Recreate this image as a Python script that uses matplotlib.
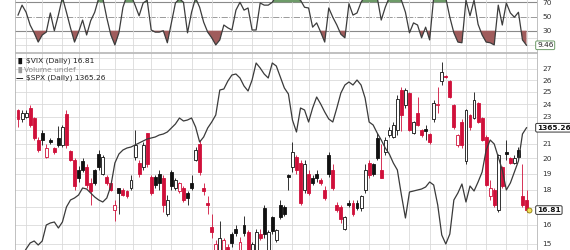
import matplotlib
matplotlib.use("Agg")
import matplotlib.pyplot as plt
import matplotlib.transforms as mtransforms
import numpy as np
from matplotlib.patches import Rectangle
from matplotlib.ticker import FixedLocator, FixedFormatter, NullLocator

plt.rcParams.update({"font.family": "DejaVu Sans"})

# ---- data (daily bars, oldest first) ----
vix_open = [23.5, 22.8, 23.0, 23.7, 22.9, 21.3, 21.8, 20.1, 21.3, 20.7,
            21.4, 20.9, 23.2, 20.5, 19.9, 19.2, 19.8, 19.4, 18.4, 19.2,
            20.3, 19.0, 18.8, 18.4, 16.8, 18.1, 18.0, 17.9, 18.1, 20.1,
            19.7, 19.4, 21.8, 18.8, 18.8, 19.0, 18.7, 16.6, 19.1, 18.1,
            17.9, 18.1, 17.8, 18.4, 19.9, 21.0, 18.1, 17.2, 15.9, 14.6,
            14.45, 14.4, 14.85, 15.5, 15.8, 14.7, 16.0, 15.6, 14.7, 14.6,
            15.5, 16.9, 14.7, 16.4, 15.2, 17.1, 17.0, 18.9, 19.4, 20.1,
            19.7, 18.0, 19.0, 18.7, 19.0, 18.6, 18.0, 20.2, 19.2, 17.1,
            17.0, 15.8, 17.2, 17.2, 17.2, 16.9, 18.0, 19.7, 19.6, 21.4,
            19.2, 20.4, 21.6, 21.5, 22.0, 25.2, 23.9, 24.9, 21.8, 23.3,
            22.0, 22.1, 21.7, 22.8, 23.9, 25.9, 26.4, 25.9, 23.9, 20.9,
            22.6, 19.8, 23.1, 22.9, 24.1, 22.9, 21.5, 17.6, 18.0, 16.8,
            19.4, 20.45, 20.0, 19.7, 20.6, 17.6, 17.4]
vix_high = [23.6, 23.5, 23.5, 23.9, 23.0, 21.5, 22.0, 21.0, 21.4, 20.8,
            22.3, 22.4, 23.5, 20.6, 20.0, 19.5, 20.0, 19.6, 18.7, 19.3,
            20.6, 20.2, 18.9, 18.6, 17.4, 18.1, 18.1, 18.0, 18.9, 22.0,
            19.9, 21.1, 21.8, 18.9, 18.9, 19.2, 18.9, 17.7, 19.2, 18.7,
            18.5, 18.2, 17.9, 18.9, 20.8, 21.3, 18.4, 17.6, 16.6, 15.2,
            16.2, 15.3, 15.0, 15.6, 16.0, 15.35, 16.5, 15.7, 15.1, 15.8,
            15.8, 17.1, 15.7, 16.5, 15.8, 17.4, 17.1, 18.95, 21.1, 20.2,
            19.9, 19.9, 19.2, 18.9, 19.2, 18.7, 18.2, 20.4, 19.6, 17.3,
            17.1, 16.5, 17.4, 17.4, 17.4, 17.7, 19.6, 19.9, 19.7, 21.8,
            21.0, 21.5, 22.2, 22.6, 24.7, 25.4, 25.3, 25.0, 22.7, 24.6,
            22.1, 22.4, 21.8, 24.3, 25.4, 27.6, 26.5, 26.0, 24.0, 21.7,
            22.8, 23.6, 23.2, 25.0, 24.2, 23.0, 21.6, 18.6, 18.1, 20.3,
            19.5, 21.3, 20.1, 20.2, 20.8, 19.6, 18.0]
vix_low = [22.2, 22.6, 22.9, 22.2, 21.3, 20.4, 20.9, 20.0, 21.0, 20.3,
           20.8, 20.8, 20.7, 19.8, 18.0, 18.5, 19.1, 18.1, 17.1, 18.3,
           19.2, 18.9, 18.3, 17.9, 16.2, 16.6, 17.6, 17.5, 18.0, 19.9,
           18.8, 19.2, 19.4, 17.7, 18.1, 18.0, 16.7, 16.5, 18.0, 18.0,
           17.8, 17.3, 17.1, 18.0, 19.8, 18.9, 17.7, 16.6, 15.3, 14.4,
           14.3, 14.3, 14.5, 14.85, 15.4, 14.45, 15.4, 14.45, 14.6, 14.45,
           15.2, 15.3, 14.6, 15.5, 15.1, 16.3, 16.5, 18.0, 19.1, 19.0,
           17.1, 17.8, 17.7, 18.3, 18.5, 18.3, 17.4, 18.8, 18.0, 16.7,
           16.1, 15.7, 17.0, 16.5, 16.8, 16.75, 17.8, 18.7, 18.85, 19.9,
           18.7, 20.2, 21.5, 21.4, 21.6, 21.9, 23.7, 21.9, 21.7, 22.3,
           21.5, 21.3, 21.0, 22.6, 23.3, 25.6, 26.2, 24.5, 22.1, 20.8,
           20.7, 19.6, 22.0, 22.8, 22.5, 21.2, 18.2, 17.4, 17.0, 16.7,
           18.1, 19.9, 19.6, 19.6, 20.0, 17.0, 16.7]
vix_close = [22.8, 23.3, 23.3, 22.4, 21.4, 20.6, 21.3, 20.7, 21.1, 20.4,
             20.9, 22.2, 20.9, 19.9, 18.2, 18.7, 19.2, 18.3, 17.9, 18.4,
             19.4, 20.1, 18.4, 18.0, 17.1, 17.8, 17.7, 17.6, 18.6, 20.9,
             19.0, 20.9, 19.6, 17.8, 18.3, 18.4, 17.1, 17.4, 18.2, 18.6,
             18.4, 17.4, 17.5, 18.1, 20.6, 19.1, 17.9, 17.1, 15.6, 15.0,
             15.3, 15.2, 14.7, 15.05, 15.55, 15.1, 15.55, 14.6, 15.0, 15.6,
             15.3, 15.5, 15.6, 15.65, 15.7, 16.4, 16.6, 18.8, 20.4, 19.2,
             17.2, 19.6, 17.8, 18.4, 18.7, 18.4, 17.5, 19.0, 18.1, 16.8,
             16.3, 16.4, 17.1, 16.6, 16.9, 17.6, 19.2, 18.9, 19.0, 20.0,
             18.75, 21.3, 22.0, 22.4, 24.4, 23.1, 25.2, 22.0, 22.6, 22.4,
             21.6, 21.9, 21.1, 24.1, 24.0, 26.7, 26.3, 24.6, 22.2, 21.6,
             20.9, 23.5, 22.2, 24.3, 22.6, 21.3, 18.3, 18.1, 17.1, 20.2,
             18.2, 20.3, 19.7, 20.0, 20.1, 17.1, 16.81]
vix_prior_close = 23.6

spx_close = [1231, 1237, 1244, 1250, 1252, 1248, 1252, 1268, 1270, 1271,
             1265, 1271, 1286, 1293, 1295, 1298, 1305, 1304, 1300, 1296,
             1293, 1291, 1295, 1307, 1330, 1339, 1343, 1345, 1346, 1348,
             1350, 1352, 1354, 1355, 1356, 1358, 1359, 1361, 1365, 1369,
             1375, 1372, 1373, 1375, 1366, 1351, 1356, 1365, 1371, 1378,
             1403, 1404, 1412, 1418, 1419, 1415, 1407, 1402, 1413, 1430,
             1425, 1419, 1415, 1430, 1427, 1416, 1405, 1399, 1373, 1361,
             1385, 1383, 1371, 1385, 1396, 1389, 1381, 1374, 1371, 1385,
             1400, 1408, 1411, 1408, 1413, 1408, 1395, 1371, 1368, 1360,
             1353, 1345, 1339, 1330, 1323, 1298, 1275, 1301, 1302, 1303,
             1304, 1306, 1311, 1308, 1288, 1258, 1249, 1259, 1293, 1300,
             1309, 1291, 1307, 1302, 1311, 1321, 1343, 1353, 1349, 1336,
             1323, 1303, 1310, 1321, 1332, 1359, 1365.26]

rsi = [52, 66, 56, 38, 27, 14, 24, 28, 55, 30,
       52, 77, 56, 34, 14, 28, 45, 24, 44, 56,
       76, 76, 48, 24, 10, 27, 63, 80, 80, 66,
       51, 69, 73, 31, 28, 28, 30, 13, 41, 69,
       75, 70, 27, 56, 76, 63, 42, 28, 20, 10,
       17, 38, 34, 31, 59, 70, 59, 62, 31, 31,
       69, 66, 66, 70, 79, 80, 80, 79, 77, 76,
       73, 63, 62, 35, 41, 28, 14, 62, 49, 38,
       25, 20, 68, 52, 55, 70, 79, 79, 79, 77,
       45, 63, 77, 79, 77, 73, 56, 27, 41, 38,
       20, 35, 17, 77, 80, 80, 76, 49, 27, 14,
       13, 73, 51, 73, 39, 24, 14, 13, 10, 66,
       38, 69, 55, 49, 56, 17, 9.46]

# first bar of each week (vertical grid)
week_starts = [2, 6, 11, 15, 20, 24, 28.5, 33, 38, 43, 48, 53, 58, 63, 68,
               72, 77, 82, 87, 92, 97, 102, 106, 111, 116, 121, 126]

# price axis labels; 22 and 17 sit under the last-value callouts
vix_ticks = [15, 16, 17, 18, 19, 20, 21, 22, 23, 24, 25, 26, 27]
vix_tick_labels = ["15", "16", "", "18", "19", "20", "21", "", "23", "24", "25", "26", "27"]

RED, BLACK, GRID = "#d0103a", "#111111", "#dadada"
n = len(vix_close)
xs = np.arange(n)

fig = plt.figure(figsize=(5.7, 2.5), dpi=100)
L, W = 15 / 570, 522 / 570
ax_rsi = fig.add_axes([L, 0.792, W, 0.284])
ax = fig.add_axes([L, 0.0, W, 0.788])
ax_spx = ax.twinx()

xlim = (-0.75, 128.6)

# ---- RSI panel ----
r = np.array(rsi, dtype=float)
ax_rsi.fill_between(xs, r, 30, where=r < 30, interpolate=True, color="#a05c5c", lw=0)
ax_rsi.fill_between(xs, r, 70, where=r > 70, interpolate=True, color="#6d9b68", lw=0)
ax_rsi.plot(xs, r, color="#3c3c3c", lw=0.9)
for v in (10, 20, 80, 90):
    ax_rsi.axhline(v, color=GRID, lw=0.6, zorder=0)
for v in (30, 70):
    ax_rsi.axhline(v, color="#8a8a8a", lw=0.8, zorder=0)
ax_rsi.axhline(50, color="#9a9a9a", lw=0.7, ls="-.", zorder=0)
for w in week_starts:
    ax_rsi.axvline(w, color=GRID, lw=0.6, zorder=0)
ax_rsi.set_xlim(*xlim)
ax_rsi.set_ylim(0, 100)
ax_rsi.set_xticks([])
ax_rsi.yaxis.tick_right()
ax_rsi.set_yticks([30, 50, 70])
ax_rsi.tick_params(axis="y", length=0, pad=4, labelsize=5.3, labelcolor="#333333")
for s in ax_rsi.spines.values():
    s.set_color("#b5b5b5")
    s.set_linewidth(0.6)
ax_rsi.text(1.0, 9.46, "9.46", transform=mtransforms.blended_transform_factory(ax_rsi.transAxes, ax_rsi.transData),
            ha="left", va="center", fontsize=5.3, color="#222222",
            bbox=dict(boxstyle="round,pad=0.18", fc="white", ec="#6d9b68", lw=0.7))

# ---- VIX candles (log scale) ----
ax.set_yscale("log")
prev = vix_prior_close
for i in range(n):
    o, h, lo, c = vix_open[i], vix_high[i], vix_low[i], vix_close[i]
    col = RED if c < prev else BLACK
    hollow = c > o
    ax.vlines(i, lo, h, color=col, lw=0.6, zorder=2)
    bot, top = min(o, c), max(o, c)
    if top - bot < 0.02:
        top = bot + 0.02
    ax.add_patch(Rectangle((i - 0.36, bot), 0.72, top - bot,
                           facecolor="white" if hollow else col, edgecolor=col, lw=0.6, zorder=3))
    prev = c

for t in range(15, 29):
    ax.axhline(t, color=GRID, lw=0.6, zorder=0)
for w in week_starts:
    ax.axvline(w, color=GRID, lw=0.6, zorder=0)
ax.set_xlim(*xlim)
ax.set_ylim(14.70, 28.49)
ax.set_xticks([])
ax.yaxis.tick_right()
ax.yaxis.set_major_locator(FixedLocator(vix_ticks))
ax.yaxis.set_major_formatter(FixedFormatter(vix_tick_labels))
ax.yaxis.set_minor_locator(NullLocator())
ax.tick_params(axis="y", which="both", length=0, pad=4, labelsize=5.3, labelcolor="#333333")
for s in ax.spines.values():
    s.set_color("#b5b5b5")
    s.set_linewidth(0.6)

ax.plot(n - 1 + 0.6, vix_close[-1], "o", ms=3.6, mfc="#f3e15a", mec="#8c7b10", mew=0.6, zorder=6)
ax.text(1.0, vix_close[-1], "16.81", transform=mtransforms.blended_transform_factory(ax.transAxes, ax.transData),
        ha="left", va="center", fontsize=5.3, fontweight="bold", color="#111111", zorder=7,
        bbox=dict(boxstyle="round,pad=0.18", fc="white", ec="#333333", lw=0.7))

# ---- SPX overlay ----
ax_spx.plot(xs, spx_close, color="#3a3a3a", lw=0.9, zorder=5)
ax_spx.set_ylim(1243, 1440)
ax_spx.set_yticks([])
for s in ax_spx.spines.values():
    s.set_visible(False)
ax_spx.text(1.0, spx_close[-1], "1365.26", transform=mtransforms.blended_transform_factory(ax_spx.transAxes, ax_spx.transData),
            ha="left", va="center", fontsize=5.3, fontweight="bold", color="#111111",
            bbox=dict(boxstyle="round,pad=0.18", fc="white", ec="#333333", lw=0.7))

# ---- legend text ----
fy = lambda py: 1 - (py - 53) / 197
fx = lambda px: (px - 15) / 522
ax_spx.text(fx(16), fy(61), "\u2590\u258c", transform=ax.transAxes, fontsize=4.5, color=BLACK, va="center")
ax_spx.text(fx(26), fy(61), "\\$VIX (Daily) 16.81", transform=ax.transAxes, fontsize=5.4, color="#222222", va="center")
ax_spx.text(fx(16), fy(70), "\u2590\u258c", transform=ax.transAxes, fontsize=4.5, color="#9a9a9a", va="center")
ax_spx.text(fx(24), fy(70), "Volume undef", transform=ax.transAxes, fontsize=5.4, color="#8a8a8a", va="center")
ax_spx.text(fx(16), fy(78), "\u2014", transform=ax.transAxes, fontsize=5.4, color=BLACK, va="center", fontweight="bold")
ax_spx.text(fx(26), fy(78), "\\$SPX (Daily) 1365.26", transform=ax.transAxes, fontsize=5.4, color="#222222", va="center")

fig.savefig("out.png", dpi=100, facecolor="white")
